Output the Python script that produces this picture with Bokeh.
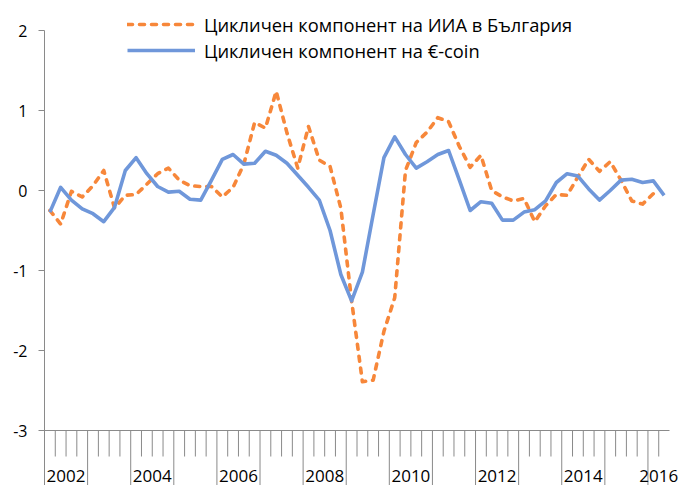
import numpy as np
from bokeh.plotting import figure
from bokeh.models import Range1d, LinearAxis, FixedTicker, Legend, LegendItem, ColumnDataSource
from bokeh.core.properties import value
from bokeh.embed import file_html
from bokeh.resources import INLINE

# ---- data -------------------------------------------------------------
years = list(range(2002, 2017))
quarters = [f"{y}Q{q}" for y in years for q in range(1, 5)][:58]
tick_years = ["2002", "2004", "2006", "2008", "2010", "2012", "2014", "2016"]
y_ticks = [-3, -2, -1, 0, 1, 2]

bg_cycle = [-0.25, -0.42, -0.01, -0.08, 0.06, 0.25, -0.22, -0.06, -0.05, 0.08, 0.21, 0.28, 0.13, 0.06,
            0.05, 0.05, -0.08, 0.04, 0.33, 0.85, 0.78, 1.24, 0.72, 0.28, 0.80, 0.38, 0.30,
            -0.22, -1.38, -2.39, -2.37, -1.76, -1.34, 0.25, 0.60, 0.73, 0.91, 0.86, 0.55, 0.29,
            0.44, 0.00, -0.08, -0.13, -0.10, -0.39, -0.19, -0.05, -0.06, 0.17, 0.39, 0.24, 0.36,
            0.13, -0.13, -0.17, -0.04]

ecoin_cycle = [-0.27, 0.04, -0.12, -0.23, -0.29, -0.39, -0.21, 0.25, 0.41, 0.21, 0.05, -0.02, -0.01, -0.11,
               -0.12, 0.13, 0.39, 0.45, 0.33, 0.34, 0.49, 0.44, 0.34, 0.19, 0.04, -0.12, -0.50,
               -1.05, -1.38, -1.02, -0.30, 0.41, 0.67, 0.45, 0.28, 0.36, 0.45, 0.50, 0.13, -0.25,
               -0.14, -0.16, -0.37, -0.37, -0.27, -0.24, -0.13, 0.10, 0.21, 0.18, 0.02, -0.12, 0.00,
               0.13, 0.14, 0.10, 0.12, -0.06]

series_names = ["Цикличен компонент на ИИА в България", "Цикличен компонент на €-coin"]

# ---- styling ----------------------------------------------------------
ORANGE = "#F7873A"
BLUE = "#6F97DA"
GRAY = "#8A8A8A"
FONT = "Open Sans"

n = len(quarters)
Y_TOP, Y_BOT = 2.375, -3.6875
PX_PER_Q = 625 / n  # frame from 44 to 669 holds the quarters

p = figure(width=679, height=485, output_backend="svg", toolbar_location=None,
           x_range=Range1d(-0.5, n - 0.5 + 10 / PX_PER_Q), y_range=Range1d(Y_BOT, Y_TOP),
           x_axis_location=None, y_axis_location=None,
           min_border_left=44, min_border_right=0, min_border_top=0, min_border_bottom=0)
p.outline_line_color = None
p.grid.visible = False
p.background_fill_color = "white"
p.border_fill_color = "white"

# y axis
yaxis = LinearAxis(ticker=FixedTicker(ticks=y_ticks), bounds=(Y_BOT, 2))
yaxis.major_label_overrides = {t: str(t) for t in y_ticks}
yaxis.axis_line_color = GRAY
yaxis.major_tick_line_color = GRAY
yaxis.major_tick_out = 6
yaxis.major_tick_in = 0
yaxis.minor_tick_line_color = None
yaxis.major_label_standoff = 11
yaxis.major_label_text_font = FONT
yaxis.major_label_text_font_size = "16px"
yaxis.major_label_text_color = "black"
p.add_layout(yaxis, "left")

# category axis at -3 (line, quarter ticks, year ticks, labels)
idx = np.arange(n)
p.segment(x0=[idx[0] - 0.5], y0=[-3.0], x1=[idx[-1] + 0.5], y1=[-3.0], line_color=GRAY, line_width=1)
bounds_x = idx[1:] - 0.5
is_year = (idx[1:] % 4) == 0
tick_end = np.where(is_year, Y_BOT, -3 - 26 / 80)
p.segment(x0=bounds_x, y0=np.full(len(bounds_x), -3.0), x1=bounds_x, y1=tick_end,
          line_color=GRAY, line_width=1)

year_of = np.array([int(q[:4]) for q in quarters])
label_x = [float(idx[year_of == int(t)].mean()) for t in tick_years]
p.text(x=label_x, y=[-3.5625] * len(label_x), text=tick_years,
       text_align="center", text_baseline="middle",
       text_font=value(FONT), text_font_size="17px", text_color="black")

# series
src_bg = ColumnDataSource(dict(x=idx[:len(bg_cycle)], y=bg_cycle))
src_ec = ColumnDataSource(dict(x=idx[:len(ecoin_cycle)], y=ecoin_cycle))
r_bg = p.line("x", "y", source=src_bg, line_color=ORANGE, line_width=3.6,
              line_dash="5 7", line_cap="round", line_join="round")
r_ec = p.line("x", "y", source=src_ec, line_color=BLUE, line_width=3.6, line_join="round")

legend = Legend(items=[LegendItem(label=series_names[0], renderers=[r_bg]),
                       LegendItem(label=series_names[1], renderers=[r_ec])],
                location=(83, 422), glyph_width=68, glyph_height=26, label_height=26,
                spacing=0, padding=0, margin=0, label_standoff=9,
                border_line_color=None, background_fill_alpha=0,
                label_text_font=FONT, label_text_font_size="18.3px", label_text_color="black")
p.add_layout(legend)

open("out.html", "w").write(file_html(p, INLINE))
